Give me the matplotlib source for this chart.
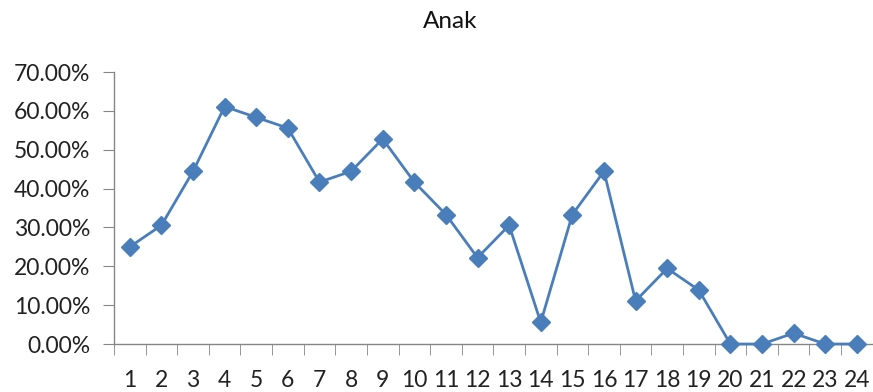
import matplotlib
matplotlib.use("Agg")
import matplotlib.pyplot as plt
from matplotlib.ticker import FuncFormatter, FixedLocator

# data
categories = list(range(1, 25))
values = [25.00, 30.56, 44.44, 61.11, 58.33, 55.56, 41.67, 44.44, 52.78, 41.67,
          33.33, 22.22, 30.56, 5.56, 33.33, 44.44, 11.11, 19.44, 13.89, 0.00,
          0.00, 2.78, 0.00, 0.00]
yticks = [0, 10, 20, 30, 40, 50, 60, 70]
title = "Anak"

blue = "#4A7EBB"
grey = "#868686"

plt.rcParams['font.family'] = ['Lato', 'DejaVu Sans']

fig = plt.figure(figsize=(8.73, 3.92), dpi=100)
ax = fig.add_axes([0.1306, 0.1224, 0.8690, 0.6939])

ax.plot(categories, values, color=blue, lw=2, marker='D', ms=9.5,
        mec=blue, mfc=blue, clip_on=False, zorder=3)

ax.set_xlim(0.5, 24.5)
ax.set_ylim(0, 70)
ax.set_yticks(yticks)
ax.yaxis.set_major_formatter(FuncFormatter(lambda v, p: "%.2f%%" % v))
ax.set_xticks(categories)
ax.xaxis.set_minor_locator(FixedLocator([c - 0.5 for c in categories] + [24.5]))
ax.tick_params(axis='x', which='major', length=0, pad=19, labelsize=16.5,
               colors='#222222')
ax.tick_params(axis='x', which='minor', length=8, color=grey, direction='out')
ax.tick_params(axis='y', length=8, color=grey, pad=9, labelsize=16.5,
               colors='#222222')

for s in ['top', 'right']:
    ax.spines[s].set_visible(False)
for s in ['left', 'bottom']:
    ax.spines[s].set_color(grey)
    ax.spines[s].set_linewidth(1)

fig.text(0.516, 0.945, title, ha='center', va='center', fontsize=17.5,
         color='#111111')

fig.savefig("out.png", dpi=100)
